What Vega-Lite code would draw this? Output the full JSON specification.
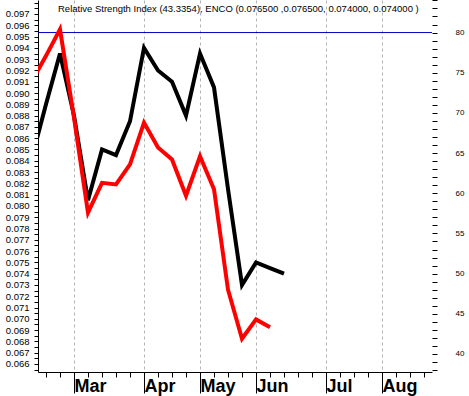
{
  "$schema": "https://vega.github.io/schema/vega-lite/v6.json",
  "width": 394,
  "height": 372,
  "autosize": {"type": "none"},
  "padding": {"left": 38, "top": 0, "right": 37, "bottom": 24},
  "background": "white",
  "config": {
    "view": {"stroke": null},
    "axis": {"grid": false, "domainColor": "black", "tickColor": "black", "labelColor": "black", "labelFont": "Liberation Sans", "title": null}
  },
  "title": {
    "text": "Relative Strength Index (43.3354), ENCO (0.076500 ,0.076500, 0.074000, 0.074000 )",
    "anchor": "start",
    "frame": "group",
    "orient": "top",
    "offset": -13,
    "dx": 20,
    "dy": 12,
    "baseline": "alphabetic",
    "fontSize": 9.5,
    "fontWeight": "normal",
    "font": "Liberation Sans",
    "color": "black"
  },
  "data": {
    "values": [
      {"week": 0, "price": 0.0843, "rsi": 74.0},
      {"week": 1, "price": 0.0890, "rsi": 77.1},
      {"week": 2, "price": 0.0935, "rsi": 80.4},
      {"week": 3, "price": 0.0880, "rsi": 69.4},
      {"week": 4, "price": 0.0805, "rsi": 57.6},
      {"week": 5, "price": 0.0850, "rsi": 61.3},
      {"week": 6, "price": 0.0845, "rsi": 61.1},
      {"week": 7, "price": 0.0875, "rsi": 63.6},
      {"week": 8, "price": 0.0940, "rsi": 68.8},
      {"week": 9, "price": 0.0920, "rsi": 65.7},
      {"week": 10, "price": 0.0910, "rsi": 64.2},
      {"week": 11, "price": 0.0880, "rsi": 59.7},
      {"week": 12, "price": 0.0935, "rsi": 64.6},
      {"week": 13, "price": 0.0905, "rsi": 60.5},
      {"week": 14, "price": 0.0815, "rsi": 48.0},
      {"week": 15, "price": 0.0730, "rsi": 41.9},
      {"week": 16, "price": 0.0750, "rsi": 44.3},
      {"week": 17, "price": 0.0745, "rsi": 43.3354},
      {"week": 18, "price": 0.0740, "rsi": null}
    ]
  },
  "layer": [
    {
      "mark": {"type": "line", "color": "black", "strokeWidth": 4, "clip": true},
      "encoding": {
        "x": {
          "field": "week", "type": "quantitative",
          "scale": {"domain": [0.4286, 28.571], "nice": false, "zero": false},
          "axis": {"orient": "bottom", "values": [1,2,3,4,5,6,7,8,9,10,11,12,13,14,15,16,17,18,19,20,21,22,23,24,25,26,27,28], "labels": false, "tickSize": 5, "grid": false, "domain": true}
        },
        "y": {
          "field": "price", "type": "quantitative",
          "scale": {"domain": [0.06529, 0.09824], "nice": false, "zero": false},
          "axis": {
            "orient": "left",
            "values": [0.0655,0.066,0.0665,0.067,0.0675,0.068,0.0685,0.069,0.0695,0.07,0.0705,0.071,0.0715,0.072,0.0725,0.073,0.0735,0.074,0.0745,0.075,0.0755,0.076,0.0765,0.077,0.0775,0.078,0.0785,0.079,0.0795,0.08,0.0805,0.081,0.0815,0.082,0.0825,0.083,0.0835,0.084,0.0845,0.085,0.0855,0.086,0.0865,0.087,0.0875,0.088,0.0885,0.089,0.0895,0.09,0.0905,0.091,0.0915,0.092,0.0925,0.093,0.0935,0.094,0.0945,0.095,0.0955,0.096,0.0965,0.097,0.0975,0.098],
            "labelExpr": "(round(datum.value*2000) % 2 == 0 && datum.value < 0.0972 && datum.value > 0.0658) ? format(datum.value, '.3f') : ''",
            "tickSize": 4,
            "labelPadding": 5,
            "labelFontSize": 9.5,
            "labelOverlap": false,
            "labelFlush": false,
            "grid": false
          }
        }
      }
    },
    {
      "layer": [
        {
          "data": {"values": [{"level": 80}]},
          "mark": {"type": "rule", "color": "#0000c0", "strokeWidth": 1},
          "encoding": {
            "y": {
              "field": "level", "type": "quantitative",
              "axis": {
                "orient": "right",
                "values": [38,39,40,41,42,43,44,45,46,47,48,49,50,51,52,53,54,55,56,57,58,59,60,61,62,63,64,65,66,67,68,69,70,71,72,73,74,75,76,77,78,79,80,81,82,83,84],
                "labelExpr": "(datum.value % 5 == 0 && datum.value >= 40 && datum.value <= 80) ? datum.value : ''",
                "tickSize": 5,
                "labelPadding": 18,
                "labelFontSize": 8,
                "labelAlign": "left",
                "labelOverlap": false,
                "labelFlush": false,
                "domain": false,
                "grid": false
              }
            }
          }
        },
        {
          "mark": {"type": "line", "color": "#ff0000", "strokeWidth": 4, "clip": true},
          "encoding": {
            "x": {
              "field": "week", "type": "quantitative",
              "axis": {
                "orient": "bottom",
                "values": [3, 8, 12, 16, 21, 25],
                "labelExpr": "datum.value == 3 ? 'Mar' : datum.value == 8 ? 'Apr' : datum.value == 12 ? 'May' : datum.value == 16 ? 'Jun' : datum.value == 21 ? 'Jul' : 'Aug'",
                "tickSize": 21,
                "labelAlign": "left",
                "labelBaseline": "alphabetic",
                "labelPadding": -2,
                "labelDx": 2,
                "labelFontSize": 18,
                "labelFontWeight": "bold",
                "labelFlush": false,
                "labelOverlap": false,
                "grid": true,
                "gridDash": [3, 3],
                "gridColor": "#b4b4b4",
                "gridOpacity": 1,
                "domain": false
              }
            },
            "y": {
              "field": "rsi", "type": "quantitative",
              "scale": {"domain": [37.76, 84.05], "nice": false, "zero": false},
              "axis": {
                "orient": "right",
                "values": [38,39,40,41,42,43,44,45,46,47,48,49,50,51,52,53,54,55,56,57,58,59,60,61,62,63,64,65,66,67,68,69,70,71,72,73,74,75,76,77,78,79,80,81,82,83,84],
                "labelExpr": "(datum.value % 5 == 0 && datum.value >= 40 && datum.value <= 80) ? datum.value : ''",
                "tickSize": 5,
                "labelPadding": 18,
                "labelFontSize": 8,
                "labelAlign": "left",
                "labelOverlap": false,
                "labelFlush": false,
                "domain": false,
                "grid": false
              }
            }
          }
        }
      ]
    }
  ],
  "resolve": {"scale": {"y": "independent"}, "axis": {"x": "independent", "y": "independent"}}
}
